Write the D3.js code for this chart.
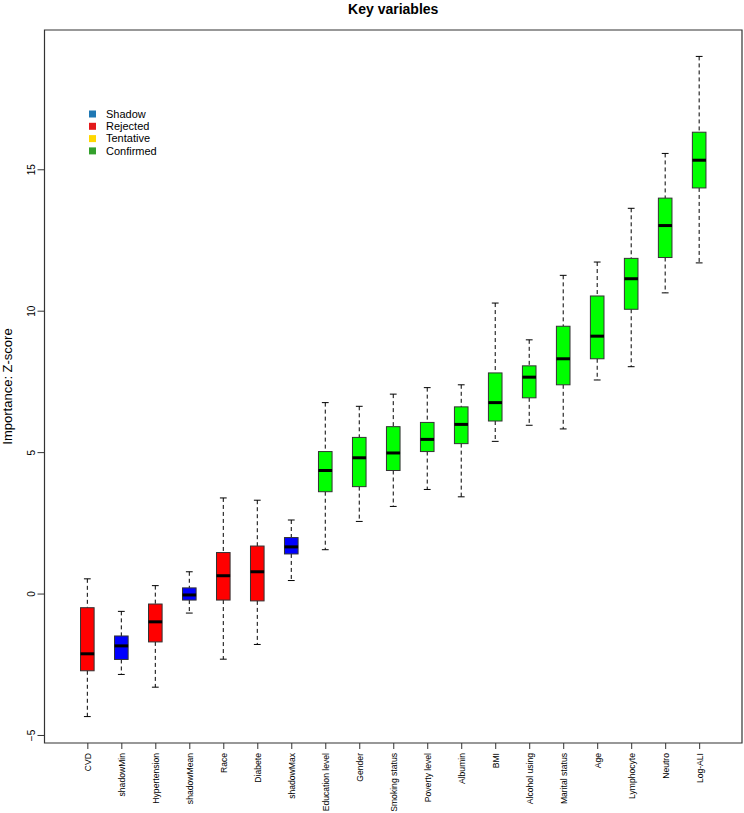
<!DOCTYPE html>
<html>
<head>
<meta charset="utf-8">
<script src="https://cdn.jsdelivr.net/npm/d3@7"></script>
<style>
    body { margin: 0; background: #fff; }
    text { font-family: "Liberation Sans", Arial, sans-serif; }
</style>
</head>
<body>
<div id="chart"></div>
<script>
// variables, ordered by median importance
var variables = ['CVD', 'shadowMin', 'Hypertension', 'shadowMean', 'Race', 'Diabete', 'shadowMax',
    'Education level', 'Gender', 'Smoking status', 'Poverty level', 'Albumin', 'BMI',
    'Alcohol using', 'Marital status', 'Age', 'Lymphocyte', 'Neutro', 'Log-ALI'];
var decisions = ['Rejected', 'Shadow', 'Rejected', 'Shadow', 'Rejected', 'Rejected', 'Shadow',
    'Confirmed', 'Confirmed', 'Confirmed', 'Confirmed', 'Confirmed', 'Confirmed',
    'Confirmed', 'Confirmed', 'Confirmed', 'Confirmed', 'Confirmed', 'Confirmed'];

// five number summaries
var lowerWhisker = [-4.35, -2.86, -3.31, -0.69, -2.32, -1.8, 0.46, 1.55, 2.55, 3.08, 3.68, 3.42, 5.38, 5.95, 5.82, 7.55, 8.02, 10.63, 11.69];
var lowerQuartile = [-2.73, -2.33, -1.71, -0.23, -0.23, -0.26, 1.4, 3.6, 3.78, 4.35, 5.02, 5.3, 6.1, 6.92, 7.38, 8.3, 10.05, 11.88, 14.34];
var medians = [-2.13, -1.85, -1.0, -0.05, 0.63, 0.77, 1.65, 4.35, 4.8, 4.97, 5.45, 5.98, 6.75, 7.65, 8.3, 9.1, 11.13, 13.01, 15.32];
var upperQuartile = [-0.5, -1.5, -0.37, 0.2, 1.45, 1.68, 1.98, 5.02, 5.52, 5.9, 6.05, 6.6, 7.8, 8.05, 9.45, 10.52, 11.85, 13.98, 16.31];
var upperWhisker = [0.52, -0.63, 0.28, 0.77, 3.38, 3.3, 2.6, 6.75, 6.62, 7.05, 7.28, 7.38, 10.27, 8.97, 11.25, 11.72, 13.62, 15.56, 18.99];

var yTicks = [-5, 0, 5, 10, 15];

var legendLabels = ['Shadow', 'Rejected', 'Tentative', 'Confirmed'];
var legendColors = ['#1f78b4', '#e31a1c', '#ffd700', '#33a02c'];
var boxFill = { Shadow: '#0000ff', Rejected: '#ff0000', Tentative: '#ffff00', Confirmed: '#00ff00' };

var width = 744, height = 813;
var plot = { left: 44.5, right: 742, top: 30, bottom: 743 };

var data = variables.map(function(v, i) {
    return {
        name: v, pos: i + 1, decision: decisions[i],
        lw: lowerWhisker[i], q1: lowerQuartile[i], med: medians[i],
        q3: upperQuartile[i], uw: upperWhisker[i]
    };
});

// R style 4% padding on both axes
var n = variables.length;
var xPad = n * 0.04;
var x = d3.scaleLinear().domain([0.5 - xPad, n + 0.5 + xPad]).range([plot.left, plot.right]);
var yMin = d3.min(lowerWhisker), yMax = d3.max(upperWhisker);
var yPad = (yMax - yMin) * 0.04;
var y = d3.scaleLinear().domain([yMin - yPad, yMax + yPad]).range([plot.bottom, plot.top]);

var boxW = x(1.4) - x(1);
var capW = boxW / 2;

var svg = d3.select('#chart').append('svg')
    .attr('width', width)
    .attr('height', height);

// title
svg.append('text')
    .attr('x', (plot.left + plot.right) / 2)
    .attr('y', 14)
    .attr('text-anchor', 'middle')
    .style('font-size', '14px')
    .style('font-weight', 'bold')
    .text('Key variables');

var boxes = svg.append('g').selectAll('g')
    .data(data)
    .enter().append('g');

// dashed whiskers
boxes.append('line')
    .attr('x1', function(d) { return x(d.pos); })
    .attr('x2', function(d) { return x(d.pos); })
    .attr('y1', function(d) { return y(d.uw); })
    .attr('y2', function(d) { return y(d.q3); })
    .attr('stroke', '#000').attr('stroke-dasharray', '4,3');
boxes.append('line')
    .attr('x1', function(d) { return x(d.pos); })
    .attr('x2', function(d) { return x(d.pos); })
    .attr('y1', function(d) { return y(d.q1); })
    .attr('y2', function(d) { return y(d.lw); })
    .attr('stroke', '#000').attr('stroke-dasharray', '4,3');

// staples
['lw', 'uw'].forEach(function(k) {
    boxes.append('line')
        .attr('x1', function(d) { return x(d.pos) - capW / 2; })
        .attr('x2', function(d) { return x(d.pos) + capW / 2; })
        .attr('y1', function(d) { return y(d[k]); })
        .attr('y2', function(d) { return y(d[k]); })
        .attr('stroke', '#000');
});

boxes.append('rect')
    .attr('x', function(d) { return x(d.pos) - boxW / 2; })
    .attr('y', function(d) { return y(d.q3); })
    .attr('width', boxW)
    .attr('height', function(d) { return y(d.q1) - y(d.q3); })
    .attr('fill', function(d) { return boxFill[d.decision]; })
    .attr('stroke', '#333');

boxes.append('line')
    .attr('x1', function(d) { return x(d.pos) - boxW / 2; })
    .attr('x2', function(d) { return x(d.pos) + boxW / 2; })
    .attr('y1', function(d) { return y(d.med); })
    .attr('y2', function(d) { return y(d.med); })
    .attr('stroke', '#000').attr('stroke-width', 3);

// frame around the plot region
svg.append('path')
    .attr('d', 'M' + plot.left + ',' + plot.top + 'H' + plot.right + 'V' + plot.bottom +
        'H' + plot.left + 'Z')
    .attr('fill', 'none')
    .attr('stroke', '#333')
    .attr('stroke-width', 1.2);

// y axis (labels parallel to the axis)
var yAxis = svg.append('g')
    .attr('transform', 'translate(' + plot.left + ',0)')
    .call(d3.axisLeft(y).tickValues(yTicks).tickSizeInner(7).tickSizeOuter(0).tickFormat(d3.format('d')));
yAxis.select('.domain').remove();
yAxis.selectAll('.tick line').attr('stroke', '#333');
yAxis.selectAll('.tick text')
    .attr('x', 0).attr('y', 0).attr('dy', 0)
    .attr('text-anchor', 'middle')
    .attr('transform', 'translate(-10,0) rotate(-90)')
    .style('font-size', '10px')
    .attr('fill', '#000');

svg.append('text')
    .attr('transform', 'translate(12,' + ((plot.top + plot.bottom) / 2) + ') rotate(-90)')
    .attr('text-anchor', 'middle')
    .style('font-size', '13px')
    .text('Importance: Z-score');

// x axis with vertical labels
var xAxis = svg.append('g')
    .attr('transform', 'translate(0,' + plot.bottom + ')')
    .call(d3.axisBottom(x).tickValues(d3.range(1, n + 1)).tickSizeInner(6).tickSizeOuter(0)
        .tickFormat(function(d) { return variables[d - 1]; }));
xAxis.select('.domain').remove();
xAxis.selectAll('.tick line').attr('stroke', '#333');
xAxis.selectAll('.tick text')
    .attr('x', 0).attr('y', 0).attr('dy', '0.35em')
    .attr('text-anchor', 'end')
    .attr('transform', 'translate(0,10) rotate(-90)')
    .style('font-size', '8.6px')
    .attr('fill', '#000');

// legend
var legend = svg.append('g').selectAll('g')
    .data(legendLabels)
    .enter().append('g')
    .attr('transform', function(d, i) { return 'translate(89,' + (114 + i * 12.3) + ')'; });
legend.append('rect')
    .attr('x', 0).attr('y', -3.5)
    .attr('width', 7).attr('height', 7)
    .attr('fill', function(d, i) { return legendColors[i]; });
legend.append('text')
    .attr('x', 17).attr('dy', '0.35em')
    .style('font-size', '11px')
    .text(function(d) { return d; });
</script>
</body>
</html>
